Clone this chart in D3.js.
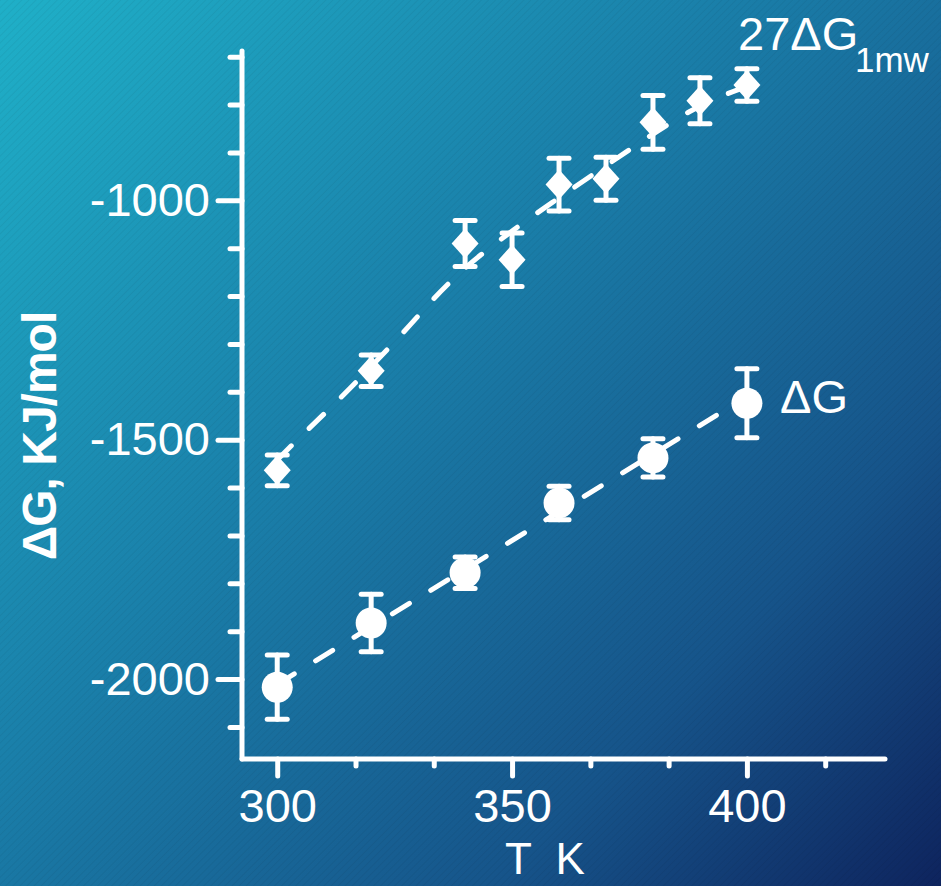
<!DOCTYPE html>
<html>
  <head>
    <title>Gibbs energy vs temperature</title>
    <meta charset="utf-8">
    <script src="https://d3js.org/d3.v7.min.js"></script>
    <style>
      body {
        margin: 0;
        background: #0f2a62;
      }
      svg text {
        font-family: "Liberation Sans", Arial, sans-serif;
        fill: #fff;
      }
    </style>
  </head>
  <body>
    <svg width="941" height="886"></svg>
    <script>
      // values
      var tempLow = [300, 320, 340, 360, 380, 400];
      var dGLow = [-2017, -1883, -1778, -1632, -1538, -1424];
      var errLow = [67, 60, 33, 35, 40, 72];

      var tempHigh = [300, 320, 340, 350, 360, 370, 380, 390, 400];
      var dGHigh = [-1564, -1356, -1090, -1124, -967, -955, -837, -792, -759];
      var errHigh = [32, 33, 48, 56, 55, 45, 56, 48, 34];

      // dashed guide lines
      var lineLowT = [300, 400];
      var lineLowG = [-2011, -1410];
      var lineHighT = [300, 305, 315, 328, 333, 340, 348, 356, 379, 388, 396, 400];
      var lineHighG = [-1542, -1493, -1399, -1265, -1207, -1139, -1078, -1021, -867, -811, -776, -762];

      var majorX = [300, 350, 400];
      var minorX = [316.67, 333.33, 366.67, 383.33, 416.67];
      var majorY = [-2000, -1500, -1000];
      var minorY = [-2100, -1900, -1800, -1700, -1600, -1400, -1300, -1200, -1100, -900, -800, -700];

      var svg = d3.select("svg");
      var W = 941, H = 886;
      var defs = svg.append("defs");

      // background gradient plus faint diagonal stripes
      var grad = defs.append("linearGradient")
        .attr("id", "bg").attr("gradientUnits", "userSpaceOnUse")
        .attr("x1", 0).attr("y1", 0).attr("x2", W).attr("y2", H);
      grad.append("stop").attr("offset", 0).attr("stop-color", "#1fb0c8");
      grad.append("stop").attr("offset", 0.4).attr("stop-color", "#1a80aa");
      grad.append("stop").attr("offset", 0.75).attr("stop-color", "#16548a");
      grad.append("stop").attr("offset", 1).attr("stop-color", "#0e245e");

      var pat = defs.append("pattern")
        .attr("id", "stripes").attr("patternUnits", "userSpaceOnUse")
        .attr("width", 5).attr("height", 5)
        .attr("patternTransform", "rotate(45)");
      pat.append("line").attr("x1", 0).attr("y1", 0).attr("x2", 0).attr("y2", 5)
        .attr("stroke", "#000").attr("stroke-opacity", 0.06).attr("stroke-width", 1.5);

      svg.append("rect").attr("width", W).attr("height", H).attr("fill", "url(#bg)");
      svg.append("rect").attr("width", W).attr("height", H).attr("fill", "url(#stripes)");

      // scales
      var x = d3.scaleLinear().domain([292.5, 429.4]).range([242, 885]);
      var y = d3.scaleLinear().domain([-2167, -688]).range([759, 51]);

      var white = "#fff";
      // plain hyphen for negative numbers, like the original
      var fmt = function(d) { return String(d); };

      // axes: major with labels, minor without
      function styleAxis(g) {
        g.select(".domain").remove();
        g.selectAll("line").attr("stroke", white).attr("stroke-width", 5).attr("stroke-linecap", "round");
        g.selectAll("text").attr("font-size", 47).attr("fill", white);
      }

      var xAxisY = 759, yAxisX = 242;

      svg.append("g").attr("transform", "translate(0," + xAxisY + ")")
        .call(d3.axisBottom(x).tickValues(majorX).tickSize(17).tickPadding(13).tickFormat(fmt))
        .call(styleAxis);
      svg.append("g").attr("transform", "translate(0," + xAxisY + ")")
        .call(d3.axisBottom(x).tickValues(minorX).tickSize(7).tickFormat(""))
        .call(styleAxis);

      svg.append("g").attr("transform", "translate(" + yAxisX + ",0)")
        .call(d3.axisLeft(y).tickValues(majorY).tickSize(24).tickPadding(8).tickFormat(fmt))
        .call(styleAxis);
      svg.append("g").attr("transform", "translate(" + yAxisX + ",0)")
        .call(d3.axisLeft(y).tickValues(minorY).tickSize(12).tickFormat(""))
        .call(styleAxis);

      // axis lines
      svg.append("line")
        .attr("x1", yAxisX).attr("x2", yAxisX).attr("y1", y.range()[1]).attr("y2", xAxisY)
        .attr("stroke", white).attr("stroke-width", 5).attr("stroke-linecap", "round");
      svg.append("line")
        .attr("x1", yAxisX).attr("x2", x.range()[1]).attr("y1", xAxisY).attr("y2", xAxisY)
        .attr("stroke", white).attr("stroke-width", 5).attr("stroke-linecap", "round");

      // dashed lines
      var lineLow = d3.line().x(function(d) { return x(d[0]); }).y(function(d) { return y(d[1]); });
      var lineHigh = d3.line().curve(d3.curveBasis)
        .x(function(d) { return x(d[0]); }).y(function(d) { return y(d[1]); });

      svg.append("path")
        .datum(d3.zip(lineLowT, lineLowG))
        .attr("d", lineLow)
        .attr("fill", "none").attr("stroke", white).attr("stroke-width", 5)
        .attr("stroke-linecap", "round").attr("stroke-dasharray", "20,25");

      svg.append("path")
        .datum(d3.zip(lineHighT, lineHighG))
        .attr("d", lineHigh)
        .attr("fill", "none").attr("stroke", white).attr("stroke-width", 5)
        .attr("stroke-linecap", "round").attr("stroke-dasharray", "20,25");

      // error bars
      function errorBars(data) {
        var g = svg.append("g")
          .attr("stroke", white).attr("stroke-width", 5).attr("stroke-linecap", "round");
        g.selectAll(".stem").data(data).enter().append("line")
          .attr("x1", function(d) { return x(d[0]); })
          .attr("x2", function(d) { return x(d[0]); })
          .attr("y1", function(d) { return y(d[1] - d[2]); })
          .attr("y2", function(d) { return y(d[1] + d[2]); });
        [-1, 1].forEach(function(s) {
          g.selectAll(".cap" + s).data(data).enter().append("line")
            .attr("x1", function(d) { return x(d[0]) - 10; })
            .attr("x2", function(d) { return x(d[0]) + 10; })
            .attr("y1", function(d) { return y(d[1] + s * d[2]); })
            .attr("y2", function(d) { return y(d[1] + s * d[2]); });
        });
      }

      var lowData = d3.zip(tempLow, dGLow, errLow);
      var highData = d3.zip(tempHigh, dGHigh, errHigh);
      errorBars(lowData);
      errorBars(highData);

      // markers
      svg.selectAll(".circ").data(lowData).enter().append("circle")
        .attr("cx", function(d) { return x(d[0]); })
        .attr("cy", function(d) { return y(d[1]); })
        .attr("r", 15.5)
        .attr("fill", white);

      svg.selectAll(".diam").data(highData).enter().append("path")
        .attr("transform", function(d) { return "translate(" + x(d[0]) + "," + y(d[1]) + ")"; })
        .attr("d", "M0,-15L13.5,0L0,15L-13.5,0Z")
        .attr("fill", white);

      // series labels
      var lab1 = svg.append("text").attr("x", 738).attr("y", 50).attr("font-size", 47);
      lab1.append("tspan").text("27\u0394G");
      lab1.append("tspan").attr("x", 855).attr("y", 72).attr("font-size", 35).text("1mw");

      svg.append("text").attr("x", 780).attr("y", 413).attr("font-size", 47).text("\u0394G");

      // axis titles
      svg.append("text")
        .attr("x", 505).attr("y", 874)
        .attr("font-size", 44)
        .style("white-space", "pre")
        .text("T  K");

      svg.append("text")
        .attr("transform", "translate(56,436) rotate(-90)")
        .attr("text-anchor", "middle")
        .attr("font-size", 48).attr("font-weight", "bold")
        .attr("letter-spacing", -1)
        .text("\u0394G, KJ/mol");
    </script>
  </body>
</html>
